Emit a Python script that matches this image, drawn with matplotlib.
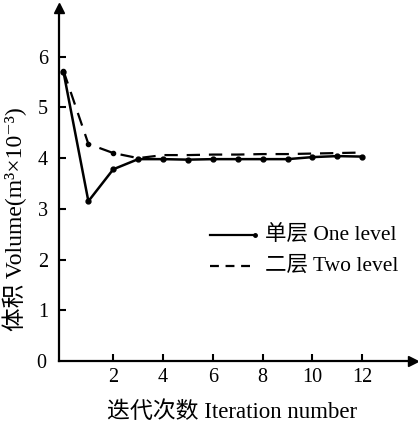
import matplotlib
matplotlib.use('Agg')
import matplotlib.pyplot as plt

# iterations and volumes (m3 x 10^-3)
iters = [0, 1, 2, 3, 4, 5, 6, 7, 8, 9, 10, 11, 12]
one_level = [5.7, 3.15, 3.78, 3.98, 3.98, 3.97, 3.98, 3.98, 3.98, 3.98, 4.02, 4.04, 4.03]
two_level = [5.72, 4.28, 4.1, 4.0, 4.06, 4.06, 4.07, 4.07, 4.08, 4.08, 4.09, 4.1, 4.11]
xticks = [2, 4, 6, 8, 10, 12]
yticks = [1, 2, 3, 4, 5, 6]

fam = ['Liberation Serif', 'Noto Sans CJK SC', 'DejaVu Serif']
plt.rcParams['font.family'] = fam

fig = plt.figure(figsize=(4.18, 4.30), dpi=100)
ax = fig.add_axes([59/418, 1 - 361/430, (413 - 59)/418, (361 - 8)/430])
ax.set_xlim(-0.18, 14.04)
ax.set_ylim(0, 6.96)

ax.plot(iters, one_level, color='black', lw=1.8, marker='o', ms=3.5)
ax.plot(iters, two_level, color='black', lw=1.6, ls=(0, (6, 4)), marker='o', ms=3,
        markevery=[0, 1, 2])

for s in ['top', 'right']:
    ax.spines[s].set_visible(False)
ax.spines['left'].set_linewidth(1.6)
ax.spines['bottom'].set_linewidth(1.6)
# axis arrows
ax.plot(1, 0, '>k', ms=7, transform=ax.transAxes, clip_on=False)
ax.plot(0, 1, '^k', ms=7, transform=ax.transAxes, clip_on=False)

ax.set_xticks(xticks)
ax.set_yticks(yticks)
ax.tick_params(direction='in', length=5, width=1.5, labelsize=14.5)
ax.tick_params(axis='x', pad=5)
ax.tick_params(axis='y', pad=8)
ax.text(-0.7, -0.05, '0', fontsize=14.5, ha='right', va='center')

# legend drawn by hand
ax.plot([5.9, 7.7], [2.49, 2.49], color='black', lw=1.6, marker='o', ms=2.5, markevery=[1])
ax.text(8.1, 2.49, '单层 One level', fontsize=15.5, va='center')
ax.plot([5.9, 7.7], [1.87, 1.87], color='black', lw=1.6, ls=(0, (4, 3)))
ax.text(8.1, 1.87, '二层 Two level', fontsize=15.5, va='center')

fig.text(0.555, 0.042, '迭代次数 Iteration number', fontsize=16.5, ha='center', va='center')
fig.text(0.036, 0.49, '体积 Volume(m³×10⁻³)', fontsize=17, rotation=90,
         ha='center', va='center')

fig.savefig('out.png', dpi=100)
